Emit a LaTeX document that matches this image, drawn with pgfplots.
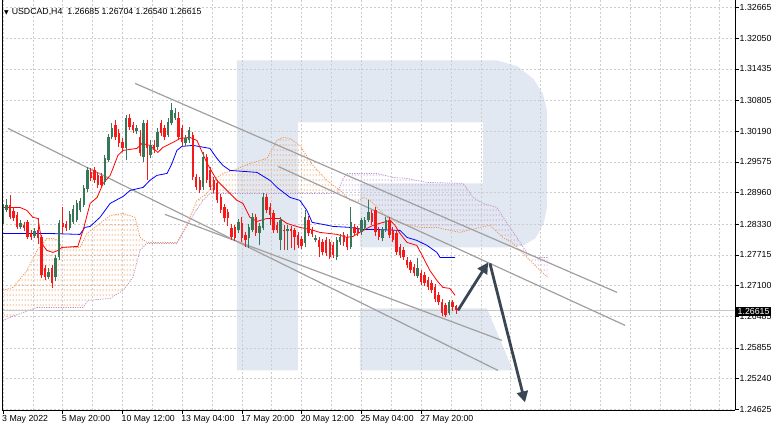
\documentclass[border=0pt]{standalone}
\usepackage{fontspec}
\setmainfont{Liberation Sans}
\newfontfamily\symf{DejaVu Sans}
\usepackage{pgfplots}
\pgfplotsset{compat=1.18}
\usepackage{pgfplotstable}
\usetikzlibrary{patterns.meta,arrows.meta}

\definecolor{bull}{RGB}{56,118,88}
\definecolor{bear}{RGB}{245,25,25}
\definecolor{wm}{RGB}{226,232,241}
\definecolor{cloudA}{RGB}{240,145,75}
\definecolor{cloudB}{RGB}{190,145,205}
\definecolor{tline}{RGB}{160,160,160}
\definecolor{arr}{RGB}{58,70,84}
\definecolor{gridc}{RGB}{205,205,205}

\tikzdeclarepattern{
  name=ichidots,
  type=uncolored,
  bottom left={(0bp,0bp)},
  top right={(3bp,5bp)},
  tile size={(3bp,5bp)},
  code={\draw[line width=0.9bp] (1.5bp,1bp) -- (1.5bp,3.5bp);}
}

\pgfplotstableread{
i o h l c
0 1.28365 1.28725 1.28325 1.28645
1 1.28605 1.28825 1.28565 1.28705
2 1.28705 1.28905 1.28425 1.28465
3 1.28585 1.28665 1.28385 1.28445
4 1.28505 1.28565 1.28225 1.28265
5 1.28265 1.28405 1.28225 1.28345
6 1.28305 1.28365 1.28185 1.28245
7 1.28365 1.28405 1.28025 1.28065
8 1.28145 1.28205 1.28005 1.28065
9 1.28085 1.28245 1.28045 1.28185
10 1.28205 1.28445 1.27925 1.28045
11 1.28065 1.28105 1.27245 1.27305
12 1.27445 1.27505 1.27205 1.27265
13 1.27265 1.27445 1.27225 1.27365
14 1.27445 1.27505 1.27045 1.27145
15 1.27265 1.27705 1.27185 1.27645
16 1.27665 1.28405 1.27605 1.28345
17 1.28345 1.28665 1.28125 1.28265
18 1.28325 1.28385 1.28185 1.28245
19 1.28245 1.28585 1.28205 1.28525
20 1.28365 1.28705 1.28325 1.28625
21 1.28405 1.28805 1.28365 1.28745
22 1.28605 1.28845 1.28565 1.28785
23 1.28705 1.29105 1.28665 1.29045
24 1.29025 1.29465 1.28965 1.29405
25 1.29365 1.29445 1.29185 1.29245
26 1.29405 1.29465 1.29145 1.29205
27 1.29305 1.29365 1.29045 1.29105
28 1.29285 1.29345 1.29065 1.29105
29 1.29165 1.29705 1.29105 1.29645
30 1.29605 1.30125 1.29565 1.30065
31 1.30065 1.30345 1.30025 1.30245
32 1.30305 1.30405 1.30005 1.30065
33 1.30145 1.30225 1.29865 1.29945
34 1.29965 1.30045 1.29765 1.29845
35 1.29845 1.30505 1.29605 1.30445
36 1.30445 1.30525 1.30205 1.30265
37 1.30305 1.30365 1.30145 1.30205
38 1.30185 1.30305 1.30125 1.30245
39 1.30065 1.30205 1.29685 1.29745
40 1.29665 1.30405 1.29565 1.30345
41 1.30345 1.30405 1.29205 1.29845
42 1.29705 1.30005 1.29645 1.29905
43 1.29905 1.30005 1.29745 1.29805
44 1.29865 1.30245 1.29805 1.30165
45 1.30345 1.30405 1.30085 1.30145
46 1.30245 1.30305 1.30005 1.30065
47 1.30105 1.30445 1.30065 1.30365
48 1.30345 1.30745 1.30305 1.30605
49 1.30445 1.30645 1.30405 1.30545
50 1.30445 1.30565 1.30005 1.30065
51 1.30245 1.30305 1.29885 1.29965
52 1.29945 1.30105 1.29885 1.30045
53 1.30005 1.30265 1.29945 1.30205
54 1.30105 1.30165 1.29205 1.29265
55 1.29265 1.29325 1.29005 1.29065
56 1.29205 1.29265 1.28945 1.29005
57 1.29065 1.29765 1.29005 1.29665
58 1.29665 1.29725 1.29145 1.29205
59 1.29405 1.29465 1.29005 1.29065
60 1.29205 1.29265 1.28945 1.29005
61 1.29145 1.29205 1.28745 1.28805
62 1.28865 1.28925 1.28545 1.28605
63 1.28665 1.28725 1.28365 1.28445
64 1.28565 1.28625 1.28285 1.28445
65 1.28245 1.28325 1.28005 1.28065
66 1.28265 1.28305 1.27985 1.28045
67 1.28205 1.28425 1.28145 1.28365
68 1.28345 1.28465 1.27965 1.28045
69 1.28105 1.28165 1.27865 1.28005
70 1.28045 1.28325 1.27845 1.28265
71 1.28205 1.28545 1.28165 1.28465
72 1.28465 1.28525 1.28085 1.28145
73 1.28145 1.28345 1.27905 1.28285
74 1.28245 1.28945 1.28205 1.28865
75 1.28865 1.28925 1.28545 1.28605
76 1.28665 1.28745 1.28305 1.28505
77 1.28545 1.28605 1.28145 1.28205
78 1.28305 1.28365 1.28145 1.28205
79 1.28005 1.28465 1.27805 1.28405
80 1.28205 1.28305 1.27805 1.28185
81 1.28185 1.28305 1.27805 1.28225
82 1.28225 1.28285 1.27845 1.28185
83 1.28205 1.28245 1.27805 1.28065
84 1.28105 1.28165 1.27845 1.27905
85 1.28025 1.28085 1.27825 1.27885
86 1.27945 1.28605 1.27865 1.28465
87 1.28405 1.28485 1.28085 1.28145
88 1.28205 1.28265 1.28065 1.28125
89 1.28005 1.28105 1.27965 1.28045
90 1.28005 1.28065 1.27665 1.27865
91 1.27965 1.28025 1.27705 1.27765
92 1.28005 1.28065 1.27685 1.27745
93 1.27965 1.28025 1.27625 1.27665
94 1.27905 1.27965 1.27645 1.27705
95 1.27665 1.28065 1.27605 1.28005
96 1.27965 1.28125 1.27905 1.28065
97 1.28105 1.28165 1.27885 1.27965
98 1.28065 1.28125 1.27805 1.27865
99 1.27865 1.28665 1.27825 1.28365
100 1.28265 1.28325 1.28085 1.28145
101 1.28245 1.28285 1.28085 1.28145
102 1.28165 1.28445 1.28105 1.28405
103 1.28245 1.28465 1.28205 1.28405
104 1.28405 1.28805 1.28365 1.28565
105 1.28545 1.28605 1.28305 1.28365
106 1.28605 1.28665 1.28085 1.28165
107 1.28205 1.28265 1.28005 1.28065
108 1.28045 1.28265 1.27985 1.28205
109 1.28205 1.28465 1.28165 1.28405
110 1.28405 1.28465 1.28045 1.28105
111 1.28205 1.28265 1.27965 1.28005
112 1.28145 1.28205 1.27705 1.27765
113 1.27865 1.27925 1.27645 1.27705
114 1.27805 1.27865 1.27605 1.27665
115 1.27605 1.27665 1.27445 1.27505
116 1.27565 1.27605 1.27345 1.27405
117 1.27465 1.27525 1.27285 1.27345
118 1.27285 1.27645 1.27245 1.27445
119 1.27345 1.27405 1.27105 1.27165
120 1.27305 1.27365 1.27085 1.27145
121 1.27205 1.27265 1.27005 1.27065
122 1.27145 1.27205 1.26945 1.27005
123 1.27065 1.27125 1.26765 1.26825
124 1.26905 1.26965 1.26705 1.26765
125 1.26765 1.26825 1.26485 1.26545
126 1.26705 1.26745 1.26465 1.26505
127 1.26545 1.26805 1.26505 1.26765
128 1.26765 1.26805 1.26585 1.26665
129 1.26685 1.26704 1.26540 1.26615
}\candles

\begin{document}
\begin{tikzpicture}[font=\fontsize{8.8}{10}\selectfont]
\begin{axis}[
  at={(2bp,21bp)}, anchor=south west,
  scale only axis, width=733bp, height=410bp,
  xmin=-0.285, xmax=208.37, ymin=1.24605, ymax=1.32805,
  set layers,
  axis x line*=bottom, axis y line*=right,
  axis line style={-, black, line width=0.8bp},
  xtick={0,17,...,119},
  xticklabels={3 May 2022,5 May 20:00,10 May 12:00,13 May 04:00,17 May 20:00,20 May 12:00,25 May 04:00,27 May 20:00},
  minor xtick={8.5,17,...,204},
  ytick={1.24625,1.25240,1.25855,1.26485,1.27100,1.27715,1.28330,1.28960,1.29575,1.30190,1.30805,1.31435,1.32050,1.32665},
  yticklabels={1.24625,1.25240,1.25855,1.26485,1.27100,1.27715,1.28330,1.28960,1.29575,1.30190,1.30805,1.31435,1.32050,1.32665},
  xmajorgrids, xminorgrids, ymajorgrids,
  grid style={gridc, dash pattern=on 2bp off 2bp, line width=0.5bp},
  minor grid style={gridc, dash pattern=on 2bp off 2bp, line width=0.5bp},
  tick align=outside, major tick length=3.5bp, minor tick length=0pt,
  tick style={black, line width=0.6bp},
  tick label style={font=\fontsize{8.8}{10}\selectfont},
  xticklabel style={anchor=north west, inner sep=0.5bp, xshift=-1.5bp, yshift=-1bp},
  yticklabel style={anchor=west, inner sep=0.5bp, xshift=0.5bp},
  colormap={cndl}{color(0)=(bear) color(1)=(bull)},
  point meta min=0, point meta max=1,
]
% watermark
\addplot[fill=wm, draw=none, on layer=axis background, forget plot] coordinates {
(66.6,1.25405) (66.6,1.31605) (140.62,1.31605) (146.5,1.31485) (151.0,1.31235) (153.7,1.30935) (154.85,1.30605)
(154.85,1.28665) (153.9,1.28335) (151.5,1.28045) (147.9,1.27895) (143.47,1.27865)
(101.62,1.27865) (101.62,1.29145) (136.64,1.29145) (136.64,1.30365) (83.97,1.30365) (83.97,1.25405)} -- cycle;
\addplot[fill=wm, draw=none, on layer=axis background, forget plot] coordinates {
(101.62,1.26645) (137.77,1.26645) (145.18,1.25405) (101.62,1.25405)} -- cycle;

% Ichimoku cloud fills (span A above span B: orange; below: purple)
\addplot[pattern=ichidots, pattern color=cloudA, draw=none, forget plot] coordinates {
(0,1.27005) (2.85,1.27065) (6.83,1.27405) (9.68,1.27805) (12.52,1.28045) (14.23,1.28045) (15.66,1.28005) (16.8,1.27865) (21.9,1.27865) (23.9,1.28145) (27.6,1.28345) (30.5,1.28505) (34.2,1.28545) (37.6,1.28465) (39,1.28065) (41,1.27965) (49.5,1.27965) (51,1.28145) (53.2,1.28465) (55.2,1.28805) (58.1,1.28945) (60.9,1.29265) (62.6,1.29345) (65.5,1.29405) (70.3,1.29545) (75.15,1.29645) (78,1.30005) (79.7,1.30065) (81.7,1.30045) (84.5,1.29905) (88.2,1.29505) (92.2,1.29205) (95.5,1.2902)
(95.1,1.28945) (83.7,1.28945) (64.6,1.28945) (58.9,1.28945) (56.9,1.28805) (54.1,1.28505) (51,1.28125) (49.5,1.27945) (41,1.27945) (39,1.27805) (37,1.27265) (34.2,1.27005) (30.5,1.26845) (24.2,1.26805) (22.8,1.26665) (9.68,1.26665) (2,1.26465) (0,1.26405)} -- cycle;
\addplot[pattern=ichidots, pattern color=cloudB, draw=none, forget plot] coordinates {
(95.5,1.2902) (96.8,1.29245) (97.9,1.29345) (106.5,1.29345) (111,1.29265) (115,1.29245) (120.7,1.29165) (131,1.29145) (133.8,1.28865) (136.6,1.28745) (140.6,1.28665) (143.5,1.28345) (146.3,1.28065) (149.2,1.27745) (152,1.27665) (155,1.27665)
(155,1.27265) (152,1.27465) (149.2,1.27665) (145.2,1.27945) (142.3,1.28065) (138.6,1.28305) (135.8,1.28265) (130.1,1.28165) (127.2,1.28205) (123.5,1.28265) (118.7,1.28265) (112.2,1.28365) (109.3,1.28465) (104.5,1.28805) (102.5,1.28865) (100.8,1.28765) (98.8,1.28805) (95.9,1.29005)} -- cycle;
% span lines
\addplot[draw=cloudA, line width=0.7bp, dash pattern=on 1.2bp off 1.2bp, forget plot] coordinates {
(0,1.27005) (2.85,1.27065) (6.83,1.27405) (9.68,1.27805) (12.52,1.28045) (14.23,1.28045) (15.66,1.28005) (16.8,1.27865) (21.9,1.27865) (23.9,1.28145) (27.6,1.28345) (30.5,1.28505) (34.2,1.28545) (37.6,1.28465) (39,1.28065) (41,1.27965) (49.5,1.27965) (51,1.28145) (53.2,1.28465) (55.2,1.28805) (58.1,1.28945) (60.9,1.29265) (62.6,1.29345) (65.5,1.29405) (70.3,1.29545) (75.15,1.29645) (78,1.30005) (79.7,1.30065) (81.7,1.30045) (84.5,1.29905) (88.2,1.29505) (92.2,1.29205) (95.9,1.29005) (98.8,1.28805) (100.8,1.28765) (102.5,1.28865) (104.5,1.28805) (109.3,1.28465) (112.2,1.28365) (118.7,1.28265) (123.5,1.28265) (127.2,1.28205) (130.1,1.28165) (135.8,1.28265) (138.6,1.28305) (142.3,1.28065) (145.2,1.27945) (149.2,1.27665) (152,1.27465) (155,1.27265)};
\addplot[draw=cloudB, line width=0.7bp, dash pattern=on 1.2bp off 1.2bp, forget plot] coordinates {
(0,1.26405) (2,1.26465) (9.68,1.26665) (22.8,1.26665) (24.2,1.26805) (30.5,1.26845) (34.2,1.27005) (37,1.27265) (39,1.27805) (41,1.27945) (49.5,1.27945) (51,1.28125) (54.1,1.28505) (56.9,1.28805) (58.9,1.28945) (64.6,1.28945) (83.7,1.28945) (95.1,1.28945) (96.8,1.29245) (97.9,1.29345) (106.5,1.29345) (111,1.29265) (115,1.29245) (120.7,1.29165) (131,1.29145) (133.8,1.28865) (136.6,1.28745) (140.6,1.28665) (143.5,1.28345) (146.3,1.28065) (149.2,1.27745) (152,1.27665) (155,1.27665)};

% current price line
\addplot[gray!45, line width=0.6bp, forget plot] coordinates {(-0.285,1.26615) (208.37,1.26615)};

% trend lines
\addplot[tline, line width=1.2bp, forget plot] coordinates {(37.6,1.31145) (174.8,1.26965)};
\addplot[tline, line width=1.2bp, forget plot] coordinates {(78.3,1.29485) (177.1,1.26305)};
\addplot[tline, line width=1.2bp, forget plot] coordinates {(46.1,1.28525) (142.0,1.26005)};
\addplot[tline, line width=1.2bp, forget plot] coordinates {(1.42,1.30245) (140.9,1.25405)};

% Kijun-sen
\addplot[blue, line width=0.8bp, forget plot] coordinates {
(0,1.28145) (12.5,1.28145) (21.9,1.28125) (23.3,1.28265) (24.8,1.28285) (27.6,1.28465) (30.5,1.28745) (34.2,1.28885) (36.2,1.29005) (39.9,1.29065) (41.8,1.29205) (43.8,1.29305) (46.7,1.29345) (48.1,1.29545) (49.5,1.29805) (50.9,1.29885) (54.1,1.29905) (58.9,1.29845) (60.9,1.29645) (62.6,1.29505) (64.6,1.29405) (72.3,1.29365) (76,1.29205) (78,1.29065) (81.7,1.28865) (84.5,1.28805) (86.5,1.28605) (88,1.28365) (91.1,1.28325) (93.9,1.28285) (98.8,1.28265) (102.5,1.28225) (105.3,1.28225) (113,1.28205) (115,1.28065) (117.8,1.28005) (120.7,1.27905) (123.5,1.27765) (124.4,1.27665) (128.7,1.27665)};
% Tenkan-sen
\addplot[red, line width=0.8bp, forget plot] coordinates {
(0,1.28665) (4.8,1.28665) (6.8,1.28605) (8.5,1.28465) (9.96,1.28445) (10.5,1.28205) (11.4,1.27905) (12.5,1.27805) (14.2,1.27765) (15.7,1.27805) (16.8,1.27865) (21.3,1.27885) (22.8,1.28205) (24.8,1.28745) (26.8,1.28865) (28.5,1.29145) (30.5,1.29305) (31.3,1.29445) (32.7,1.29705) (34.2,1.29805) (38.1,1.29845) (39.6,1.29945) (41.8,1.29905) (44.1,1.29765) (45.5,1.29865) (48.4,1.29965) (50.4,1.30045) (53.2,1.30065) (55.2,1.30005) (58.1,1.29545) (60.9,1.29205) (64.6,1.28945) (66.6,1.28805) (68.3,1.28745) (70.3,1.28465) (72.3,1.28385) (75.2,1.28445) (78.8,1.28445) (80.8,1.28345) (84.5,1.28265) (87.4,1.28225) (90.2,1.28165) (95.1,1.28125) (97.9,1.28065) (99.6,1.28085) (102.5,1.28205) (105.3,1.28305) (108.2,1.28365) (110.2,1.28405) (111.6,1.28305) (113,1.28145) (115,1.27965) (117.8,1.27905) (119.6,1.27665) (121.5,1.27405) (123.5,1.27205) (125.2,1.27065) (127.2,1.27045) (128.7,1.26905)};

% candles: wicks (low to high) and bodies (open to close), coloured by direction
\addplot[forget plot, point meta=explicit,
  quiver={u=0, v={\thisrow{h}-\thisrow{l}}, every arrow/.append style={-, line width=0.9bp, draw=mapped color}}]
  table[x=i, y=l, meta expr={\thisrow{c}>=\thisrow{o}}] {\candles};
\addplot[forget plot, point meta=explicit,
  quiver={u=0, v={abs(\thisrow{c}-\thisrow{o})}, every arrow/.append style={-, line width=2.4bp, draw=mapped color}}]
  table[x=i, y expr={min(\thisrow{o},\thisrow{c})}, meta expr={\thisrow{c}>=\thisrow{o}}] {\candles};

% forecast arrows
\addplot[arr, line width=2.8bp, -{Triangle[length=11bp,width=11bp]}, forget plot] coordinates {(129.5,1.26605) (138.1,1.27565)};
\addplot[arr, line width=2.8bp, -{Triangle[length=11bp,width=11bp]}, forget plot] coordinates {(138.6,1.27545) (148.6,1.24765)};
\end{axis}
\draw[black, line width=0.8bp] (2bp,21bp) -- (2bp,431bp);
\node[fill=black, text=white, anchor=west, inner xsep=1.5bp, inner ysep=1.5bp] at (736bp,120bp) {1.26615};
\node[anchor=west, inner sep=0] at (4bp,419bp) {{\symf\fontsize{6}{6}\selectfont ▼}\hspace{3bp}USDCAD,H4\hspace{5bp}1.26685 1.26704 1.26540 1.26615};
\path (0,0) rectangle (782bp,431bp);
\end{tikzpicture}
\end{document}
